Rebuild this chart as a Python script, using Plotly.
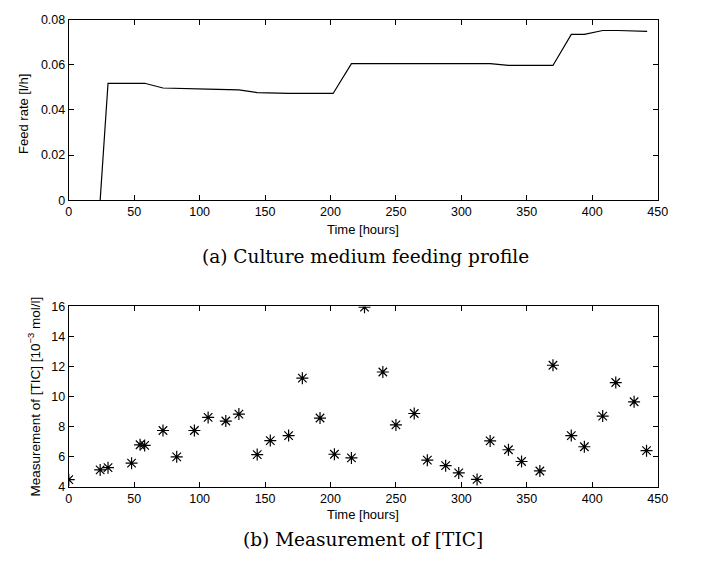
import plotly.graph_objects as go

# ---- data ----
feed_time = [24, 30, 58, 72, 106, 130, 144, 168, 202, 216, 322, 336, 370, 384, 394, 408, 420, 442]
feed_rate = [0.0, 0.0518, 0.0518, 0.0497, 0.0492, 0.0489, 0.0477, 0.0473, 0.0473, 0.0605,
             0.0605, 0.0597, 0.0597, 0.0735, 0.0735, 0.0752, 0.0752, 0.0748]

tic_time = [0, 24, 30, 48, 54.5, 58, 72, 82.5, 96, 106.5, 120, 130, 144, 154, 168, 178.5, 192,
            203, 216, 226, 240, 250, 264, 274, 288, 298, 312, 322, 336, 346, 360, 370, 384,
            394, 408, 418, 432, 441.5]
tic_value = [4.48, 5.13, 5.28, 5.58, 6.80, 6.76, 7.75, 6.00, 7.75, 8.62, 8.38, 8.84, 6.15, 7.08,
             7.41, 11.23, 8.58, 6.17, 5.93, 15.95, 11.64, 8.12, 8.88, 5.78, 5.41, 4.93, 4.50,
             7.06, 6.47, 5.69, 5.06, 12.09, 7.41, 6.67, 8.71, 10.94, 9.66, 6.41]

W, H = 702, 569
FONT = "Liberation Sans, Arial, sans-serif"
SERIF = "DejaVu Serif, Liberation Serif, serif"

def px_x(p):
    return p / W

def px_y(p):
    return 1 - p / H

fig = go.Figure()
fig.add_trace(go.Scatter(x=feed_time, y=feed_rate, mode="lines",
                         line=dict(color="black", width=1.2),
                         xaxis="x", yaxis="y", showlegend=False))
fig.add_trace(go.Scatter(x=tic_time, y=tic_value, mode="markers",
                         marker=dict(symbol="asterisk-open", size=10, color="black",
                                     line=dict(color="black", width=1.2)),
                         xaxis="x2", yaxis="y2", showlegend=False))

ax_common = dict(showline=True, linecolor="black", linewidth=1, mirror="ticks",
                 ticks="inside", ticklen=5, tickcolor="black", showgrid=False,
                 zeroline=False, tickfont=dict(family=FONT, size=12.5, color="black"))

x_dom = [px_x(67), px_x(667)]
fig.update_layout(
    width=W, height=H,
    margin=dict(l=0, r=0, t=0, b=0),
    paper_bgcolor="white", plot_bgcolor="white",
    xaxis=dict(domain=x_dom, range=[0, 450], dtick=50, anchor="y", **ax_common),
    yaxis=dict(domain=[px_y(198), px_y(13)], range=[0, 0.08], dtick=0.02, anchor="x",
               **ax_common),
    xaxis2=dict(domain=x_dom, range=[0, 450], dtick=50, anchor="y2", **ax_common),
    yaxis2=dict(domain=[px_y(492), px_y(307)], range=[4, 16], dtick=2, anchor="x2",
                **ax_common),
)

ann = []
tf = dict(family=FONT, size=13, color="black")
ann.append(dict(text="Time [hours]", x=px_x(367), y=px_y(228), xref="paper", yref="paper",
                showarrow=False, font=tf, xanchor="center", yanchor="middle"))
ann.append(dict(text="Time [hours]", x=px_x(367), y=px_y(520), xref="paper", yref="paper",
                showarrow=False, font=tf, xanchor="center", yanchor="middle"))
ann.append(dict(text="Feed rate [l/h]", x=px_x(21), y=px_y(110), xref="paper", yref="paper",
                showarrow=False, font=tf, textangle=-90, xanchor="center", yanchor="middle"))
ann.append(dict(text="Measurement of [TIC] [10<sup>−3</sup> mol/l]", x=px_x(32), y=px_y(399),
                xref="paper", yref="paper", showarrow=False,
                font=dict(family=FONT, size=13.5, color="black"), textangle=-90,
                xanchor="center", yanchor="middle"))
cf = dict(family=SERIF, size=18.5, color="black")
ann.append(dict(text="(a) Culture medium feeding profile", x=px_x(369), y=px_y(256),
                xref="paper", yref="paper", showarrow=False, font=cf,
                xanchor="center", yanchor="middle"))
ann.append(dict(text="(b) Measurement of [TIC]", x=px_x(367), y=px_y(546),
                xref="paper", yref="paper", showarrow=False, font=cf,
                xanchor="center", yanchor="middle"))
fig.update_layout(annotations=ann)

fig.write_html("out.html")
